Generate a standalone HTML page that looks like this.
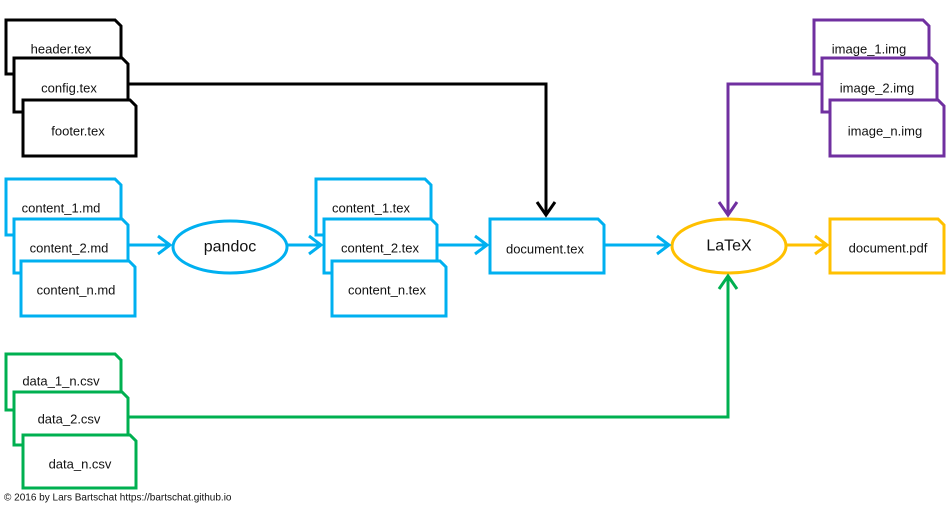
<!DOCTYPE html>
<html><head><meta charset="utf-8"><style>body{margin:0;background:#fff}svg{display:block}text{font-family:"Liberation Sans",sans-serif;font-size:13px;text-anchor:middle;dominant-baseline:central;fill:#111 !important;stroke:none !important}</style></head><body>
<svg width="946" height="511" viewBox="0 0 946 511" xmlns="http://www.w3.org/2000/svg">
<g fill="#fff" stroke-width="3" stroke-linejoin="miter">
<g stroke="#000">
<path d="M6,20 H115 L121,26 V74 H6 Z"/><text x="61" y="49">header.tex</text>
<path d="M14,58 H122 L128,64 V112 H14 Z"/><text x="69" y="88">config.tex</text>
<path d="M23,100 H130 L136,106 V156 H23 Z"/><text x="78" y="131">footer.tex</text>
</g>
<g stroke="#7030A0">
<path d="M814,20 H923 L929,26 V74 H814 Z"/><text x="869" y="49">image_1.img</text>
<path d="M822,58 H931 L937,64 V112 H822 Z"/><text x="877" y="88">image_2.img</text>
<path d="M830,100 H938 L944,106 V156 H830 Z"/><text x="885" y="131">image_n.img</text>
</g>
<g stroke="#00B0F0">
<path d="M6,179 H115 L121,185 V235 H6 Z"/><text x="61" y="208">content_1.md</text>
<path d="M14,219 H122 L128,225 V273 H14 Z"/><text x="69" y="248">content_2.md</text>
<path d="M21,261 H129 L135,267 V316 H21 Z"/><text x="76" y="290">content_n.md</text>
<path d="M316,179 H425 L431,185 V235 H316 Z"/><text x="371" y="208">content_1.tex</text>
<path d="M324,219 H431 L437,225 V273 H324 Z"/><text x="380" y="248">content_2.tex</text>
<path d="M332,261 H440 L446,267 V316 H332 Z"/><text x="387" y="290">content_n.tex</text>
<path d="M490,219 H598 L604,225 V273 H490 Z"/><text x="545" y="249">document.tex</text>
<ellipse cx="230" cy="247" rx="57" ry="26"/>
</g>
<g stroke="#00B050">
<path d="M6,354 H115 L121,360 V410 H6 Z"/><text x="61" y="381">data_1_n.csv</text>
<path d="M14,392 H122 L128,398 V445 H14 Z"/><text x="69" y="419">data_2.csv</text>
<path d="M23,435 H130 L136,441 V488 H23 Z"/><text x="80" y="464">data_n.csv</text>
</g>
<g stroke="#FFC000">
<ellipse cx="729" cy="246" rx="57" ry="27"/>
<path d="M830,219 H938 L944,225 V273 H830 Z"/>
</g>
</g>
<text x="230" y="247" style="font-size:16px">pandoc</text>
<text x="729" y="246" style="font-size:16px">LaTeX</text>
<text x="888" y="248">document.pdf</text>
<g fill="none" stroke-width="3">
<path stroke="#000" d="M128,84 H546 V215 M537,202 L546,215 L555,202"/>
<path stroke="#7030A0" d="M822,84 H728 V215 M719,202 L728,215 L737,202"/>
<path stroke="#00B050" d="M128,417 H728 V276 M719,289 L728,276 L737,289"/>
<path stroke="#00B0F0" d="M128,245 H170 M158,236 L170,245 L158,254"/>
<path stroke="#00B0F0" d="M287,245 H321 M309,236 L321,245 L309,254"/>
<path stroke="#00B0F0" d="M437,245 H487 M475,236 L487,245 L475,254"/>
<path stroke="#00B0F0" d="M604,245 H669 M657,236 L669,245 L657,254"/>
<path stroke="#FFC000" d="M786,245 H827 M815,236 L827,245 L815,254"/>
</g>
<text x="4" y="498" style="font-size:10px;text-anchor:start">© 2016 by Lars Bartschat https://bartschat.github.io</text>
</svg>
</body></html>
